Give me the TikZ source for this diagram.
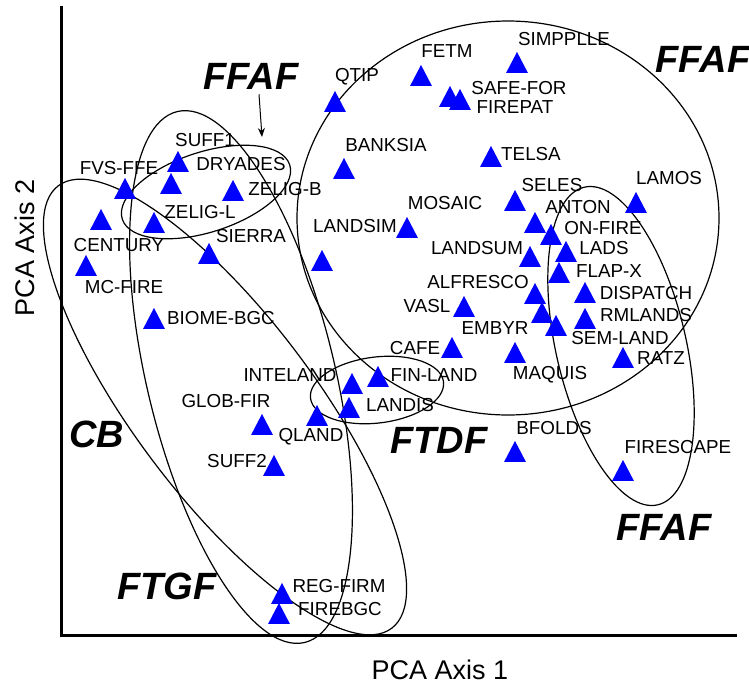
\documentclass[tikz,border=0pt]{standalone}
\usepackage{fontspec}
\setmainfont{Liberation Sans}
\usepackage{tikz}
\usetikzlibrary{shapes, arrows.meta, positioning}

\begin{document}
\begin{tikzpicture}[x=1pt, y=-1pt,
    tri/.style={isosceles triangle, isosceles triangle apex angle=55, shape border rotate=90,
                minimum width=21pt, minimum height=21pt, inner sep=0pt, fill=blue,
                anchor=apex, yshift=10.5pt},
    lbl/.style={inner sep=0pt, font=\fontsize{18.8}{20}\selectfont},
    grp/.style={inner sep=0pt, font=\fontsize{38}{40}\selectfont\bfseries\itshape},
    ring/.style={line width=1.2pt},
    axis/.style={line width=3pt},
    axlbl/.style={inner sep=0pt, font=\fontsize{27}{30}\selectfont}]
    \useasboundingbox (0,0) rectangle (749,686);

    % axes
    \draw[axis] (61,6) -- (61,635) -- (737,635);
    \node[axlbl] (xlab) at (440,670) {PCA Axis 1};
    \node[axlbl, rotate=90] (ylab) at (25,248) {PCA Axis 2};

    % groups
    \draw[ring, rotate around={37:(225,407)}] (225,407) ellipse [x radius=90, y radius=277];
    \draw[ring, rotate around={13.5:(241,377)}] (241,377) ellipse [x radius=94, y radius=273];
    \draw[ring, rotate around={18:(206,192)}] (206,192) ellipse [x radius=88, y radius=40];
    \draw[ring] (508,218) ellipse [x radius=211, y radius=197];
    \draw[ring, rotate around={7:(377,390)}] (377,390) ellipse [x radius=67, y radius=33];
    \draw[ring, rotate around={13:(621,346)}] (621,346) ellipse [x radius=65, y radius=163];

    % models
    \foreach \n/\x/\y in {qtip/335/101, fetm/421/75, simpplle/517/62, safefor/450/96,
        firepat/460/99, banksia/344/168, telsa/491/156, mosaic/407/227, landsim/322/260,
        seles/515/200, anton/535/222, onfire/551/234, lads/566/251, landsum/530/256,
        flapx/559/272, lamos/636/202, alfresco/535/293, dispatch/585/292, embyr/542/312,
        rmlands/585/318, semland/556/325, vasl/464/306, maquis/515/352, cafe/452/347,
        ratz/623/357, finland/378/376, inteland/352/383, landis/349/407, qland/317/415,
        bfolds/515/451, firescape/623/470, suffone/178/161, dryades/171/183, fvsffe/125/188,
        zeligb/233/190, zeligl/154/222, century/101/219, sierra/209/253, mcfire/86/265,
        biomebgc/154/318, globfir/262/424, sufftwo/274/465, regfirm/282/593, firebgc/279/613}
        \node[tri] (\n) at (\x,\y) {};

    \foreach \n/\x/\y/\t in {qtip/357/77/QTIP, fetm/447/51/FETM, simpplle/564/39/SIMPPLLE,
        safefor/519/88/SAFE-FOR, firepat/515/107/FIREPAT, banksia/386/145/BANKSIA,
        telsa/531/154/TELSA, mosaic/445/203/MOSAIC, landsim/355/226/LANDSIM,
        seles/552/185/SELES, anton/578/207/ANTON, onfire/603/228/ON-FIRE, lads/604/248/LADS,
        landsum/477/248/LANDSUM, flapx/609/271/FLAP-X, lamos/669/178/LAMOS,
        alfresco/478/282/ALFRESCO, dispatch/646/293/DISPATCH, embyr/495/328/EMBYR,
        rmlands/646/315/RMLANDS, semland/620/338/SEM-LAND, vasl/427/306/VASL,
        maquis/550/375/MAQUIS, cafe/415/348/CAFE, ratz/661/358/RATZ,
        finland/434/375/FIN-LAND, inteland/290/375/INTELAND, landis/400/405/LANDIS,
        qland/311/437/QLAND, bfolds/554/428/BFOLDS, firescape/678/447/FIRESCAPE,
        suffone/205/140/SUFF1, dryades/241/164/DRYADES, fvsffe/119/168/FVS-FFE,
        zeligb/285/189/ZELIG-B, zeligl/200/212/ZELIG-L, century/119/245/CENTURY,
        sierra/251/236/SIERRA, mcfire/124/287/MC-FIRE, biomebgc/221/318/BIOME-BGC,
        globfir/226/401/GLOB-FIR, sufftwo/237/461/SUFF2, regfirm/339/586/REG-FIRM,
        firebgc/340/609/FIREBGC}
        \node[lbl] (\n-lbl) at (\x,\y) {\t};

    % group names
    \node[grp] (ffafA) at (251,76) {FFAF};
    \node[grp] (ffafB) at (703,59) {FFAF};
    \node[grp] (ffafC) at (664,527) {FFAF};
    \node[grp] (cb) at (97,434) {CB};
    \node[grp] (ftdf) at (439,440) {FTDF};
    \node[grp] (ftgf) at (167,586) {FTGF};
    \coordinate (ffafTip) at (262,137);
    \draw[line width=1pt, -{Stealth[length=9pt, width=7pt]}] ([xshift=8pt, yshift=-5pt]ffafA.south) -- (ffafTip);
\end{tikzpicture}
\end{document}
